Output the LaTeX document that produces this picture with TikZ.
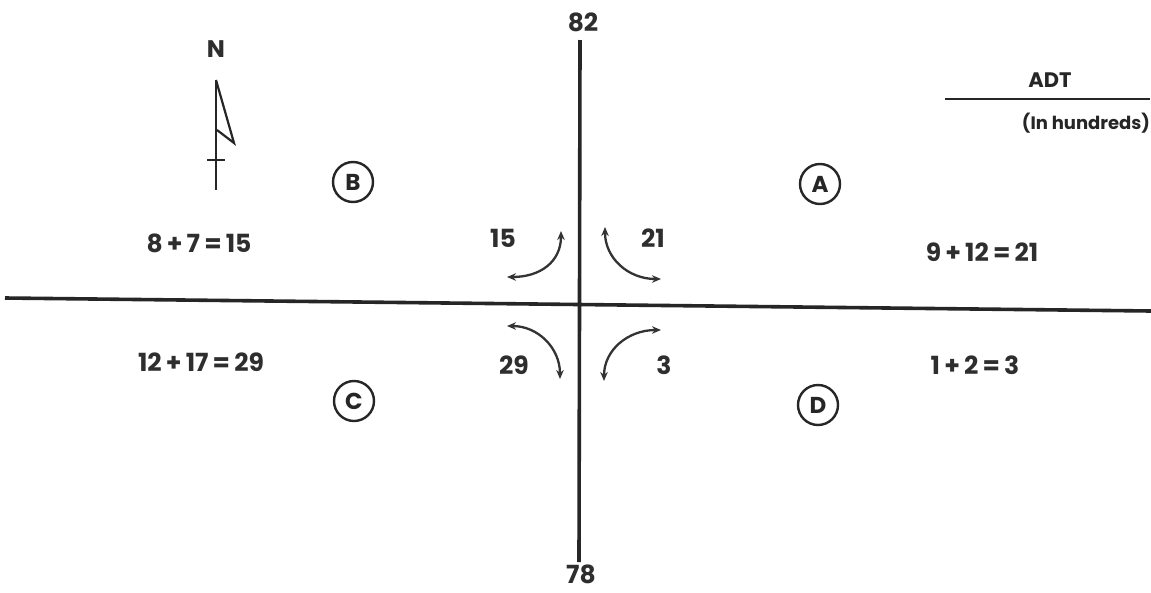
\documentclass[tikz,border=0pt]{standalone}
\usepackage{fontspec}
\setmainfont{Poppins}
\usetikzlibrary{arrows.meta}
\begin{document}
\begin{tikzpicture}[x=1pt,y=-1pt,
  road/.style={line width=3.6pt,draw=black!85},
  turn/.style={line width=2.3pt,draw=black!80,{Stealth[length=9pt,width=7.5pt]}-{Stealth[length=9pt,width=7.5pt]}},
  lbl/.style={font=\bfseries\fontsize{25}{25}\selectfont,text=black!82,inner sep=0pt},
  small/.style={font=\fontsize{20}{20}\selectfont,text=black!85,inner sep=0pt},
  zone/.style={circle,draw=black!85,line width=2.4pt,minimum size=40pt,inner sep=0pt,font=\bfseries\fontsize{23}{23}\selectfont,text=black!85}]
\useasboundingbox[fill=white] (0,0) rectangle (1151,592);
% roads
\coordinate (west) at (5,298);
\coordinate (east) at (1151,311);
\coordinate (top) at (580,40);
\coordinate (bot) at (579,562);
\draw[road] (west) -- (east);
\draw[road] (top) -- (bot);
\node[lbl] (n82) at (583,22) {82};
\node[lbl] (n78) at (581,574) {78};
% north arrow
\node[lbl,font=\bfseries\fontsize{24}{24}\selectfont] (north) at (216,49) {N};
\coordinate (nTop) at (216,80);
\coordinate (nBot) at (216,190);
\coordinate (nTip) at (234,143);
\coordinate (nIn) at (217,130);
\coordinate (cL) at (207,160);
\coordinate (cR) at (225,160);
\draw[line width=2.2pt,black!85] (nTop) -- (nBot);
\draw[line width=2.2pt,black!85,line join=miter] (nTop) -- (nTip) -- (nIn);
\draw[line width=2.2pt,black!85] (cL) -- (cR);
% legend
\node[small,font=\bfseries\fontsize{21}{21}\selectfont] (adt) at (1050,80) {ADT};
\coordinate (legL) at (945,99);
\coordinate (legR) at (1150,99);
\draw[line width=2pt,black!85] (legL) -- (legR);
\node[small,font=\bfseries\fontsize{18}{18}\selectfont] (hund) at (1086,123) {(In hundreds)};
% zones
\node[zone] (B) at (353,182) {B};
\node[zone] (A) at (820,184) {A};
\node[zone] (C) at (354,401) {C};
\node[zone] (D) at (818,405) {D};
% sums
\node[lbl] (sB) at (199,243) {8\,+\,7\,=\,15};
\node[lbl] (sA) at (982,252) {9\,+\,12\,=\,21};
\node[lbl] (sC) at (201,362) {12\,+\,17\,=\,29};
\node[lbl] (sD) at (975,365) {1\,+\,2\,=\,3};
% turning volumes
\node[lbl] (v15) at (503,238) {15};
\node[lbl] (v21) at (653,238) {21};
\node[lbl] (v29) at (514,365) {29};
\node[lbl] (v3) at (664,365) {3};
% turning arrows
\coordinate (a1) at (561,231); \coordinate (a2) at (507,277);
\coordinate (b1) at (605,227); \coordinate (b2) at (661,279);
\coordinate (c1) at (507,326); \coordinate (c2) at (560,379);
\coordinate (d1) at (661,330); \coordinate (d2) at (604,381);
\draw[turn] (a1) .. controls (561,262) and (540,277) .. (a2);
\draw[turn] (b1) .. controls (605,258) and (628,279) .. (b2);
\draw[turn] (c1) .. controls (538,326) and (560,348) .. (c2);
\draw[turn] (d1) .. controls (628,330) and (604,350) .. (d2);
\end{tikzpicture}
\end{document}
